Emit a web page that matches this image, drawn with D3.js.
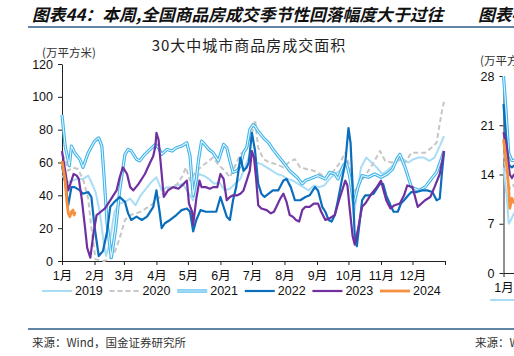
<!DOCTYPE html>
<html><head><meta charset="utf-8">
<script src="https://cdn.jsdelivr.net/npm/d3@7"></script>
<style>html,body{margin:0;padding:0;background:#fff;overflow:hidden}svg{display:block}</style>
</head><body>
<svg id="c" width="514" height="356"></svg>
<script>
// ---------------- data ----------------
const monthLabels = ["1月","2月","3月","4月","5月","6月","7月","8月","9月","10月","11月","12月",""];
const monthStarts = [0,31,59,90,120,151,181,212,243,273,304,334,365];
const yTicks = [0,20,40,60,80,100,120];
const seriesNames = ["2019","2020","2021","2022","2023","2024"];

// [day of year, 万平方米]
const s2019 = [[0,52],[5,48],[10,49],[15,50],[20,50],[25,52],[28,48],[32,42],[36,30],[40,10],[42,3],[45,10],[50,30],[55,35],[60,36],[65,38],[70,34],[75,40],[80,44],[85,48],[90,51],[95,43],[100,45],[105,45],[110,46],[115,47],[120,42],[125,37],[130,53],[135,52],[140,50],[145,47],[150,48],[155,43],[160,44],[165,47],[170,50],[175,58],[180,67],[185,60],[190,59],[195,57],[200,55],[205,53],[210,52],[215,50],[220,49],[225,47],[230,45],[235,43],[240,46],[245,45],[250,46],[255,50],[260,53],[265,55],[270,61],[275,52],[278,27],[282,45],[285,57],[290,63],[295,60],[300,57],[305,53],[310,55],[315,58],[320,61],[325,62],[330,60],[335,62],[340,63],[345,63],[350,61],[355,63],[360,70],[364,76]];
const s2020 = [[0,65],[3,62],[6,55],[10,57],[15,56],[20,50],[25,38],[28,20],[32,1],[40,0],[45,1],[50,5],[55,14],[60,25],[65,28],[70,29],[75,30],[80,32],[85,34],[90,37],[95,40],[100,44],[105,45],[110,47],[115,52],[118,57],[122,49],[127,54],[132,57],[138,60],[144,63],[150,58],[155,55],[160,51],[165,58],[170,65],[176,68],[182,80],[184,86],[187,69],[192,62],[198,60],[204,59],[211,57],[216,60],[222,62],[227,57],[233,56],[240,55],[246,53],[252,51],[258,54],[265,60],[270,66],[273,60],[278,42],[283,47],[290,53],[297,60],[303,67],[308,61],[314,60],[320,62],[327,60],[333,66],[340,66],[346,66],[352,69],[357,72],[359,80],[362,91],[364,97]];
const s2021 = [[0,89],[3,70],[7,58],[9,70],[12,66],[17,62],[20,57],[25,66],[31,73],[35,75],[38,70],[40,52],[43,23],[47,2],[51,19],[55,43],[60,65],[63,68],[66,67],[71,62],[74,61],[79,65],[84,68],[89,71],[92,69],[95,65],[100,68],[105,67],[109,69],[114,70],[119,72],[122,64],[125,40],[128,50],[130,61],[133,73],[136,71],[140,68],[144,66],[149,61],[154,71],[157,69],[160,61],[163,54],[167,55],[170,58],[173,66],[176,69],[179,80],[182,83],[184,82],[187,79],[192,75],[197,72],[201,68],[206,64],[211,60],[217,55],[224,51],[229,47],[232,49],[236,50],[240,51],[244,52],[251,50],[255,54],[260,53],[263,50],[268,58],[271,60],[274,52],[278,35],[282,45],[286,52],[292,51],[298,53],[304,51],[310,53],[315,56],[319,62],[322,65],[327,57],[333,45],[340,43],[346,45],[352,50],[357,54],[362,63],[364,67]];
const s2022 = [[0,58],[3,48],[6,34],[9,45],[12,45],[17,43],[20,41],[25,42],[28,39],[31,21],[35,3],[39,6],[43,18],[46,33],[50,36],[55,39],[60,36],[63,29],[66,25],[71,27],[76,25],[81,27],[87,33],[90,43],[93,30],[95,20],[98,23],[103,25],[109,28],[114,31],[119,32],[122,30],[125,18],[128,25],[132,31],[137,30],[141,30],[147,30],[151,39],[154,33],[157,27],[160,25],[163,37],[166,45],[170,63],[173,55],[176,57],[178,60],[181,78],[184,67],[187,47],[190,41],[193,39],[197,41],[201,43],[206,43],[211,49],[214,50],[218,45],[222,37],[227,37],[232,39],[236,40],[241,45],[244,43],[248,33],[251,30],[254,25],[257,24],[260,28],[263,37],[266,47],[270,60],[273,81],[275,72],[277,45],[279,15],[281,9],[283,20],[286,37],[289,40],[293,40],[297,41],[300,44],[303,47],[306,47],[309,40],[313,34],[316,30],[320,30],[323,35],[326,37],[330,40],[333,42],[338,42],[343,43],[348,43],[353,42],[357,37],[360,38],[362,53],[364,66]];
const s2023 = [[0,67],[3,55],[6,43],[8,47],[11,53],[14,52],[16,50],[19,37],[22,20],[24,8],[27,2],[30,17],[33,28],[37,30],[41,32],[47,38],[52,43],[55,51],[58,57],[62,53],[65,45],[68,43],[73,47],[79,53],[84,60],[87,64],[89,70],[90,78],[92,74],[94,60],[97,39],[101,43],[106,45],[111,44],[116,47],[119,49],[121,35],[124,30],[125,22],[128,38],[131,49],[133,45],[137,45],[141,44],[144,45],[148,45],[151,53],[154,50],[157,37],[160,39],[163,40],[167,40],[170,41],[173,43],[176,49],[179,55],[181,67],[183,63],[185,50],[187,34],[190,32],[195,31],[199,29],[202,30],[205,34],[208,38],[211,41],[214,36],[217,28],[220,27],[223,25],[226,24],[229,31],[232,33],[236,33],[240,35],[244,35],[247,30],[251,25],[255,26],[260,28],[264,37],[268,45],[270,49],[272,46],[274,33],[277,15],[279,10],[282,19],[286,33],[289,35],[295,41],[300,45],[304,49],[306,44],[309,37],[313,32],[317,34],[322,35],[326,40],[329,46],[334,45],[339,33],[346,37],[351,39],[355,45],[360,53],[363,63],[364,67]];
const s2024 = [[0,61],[1.5,55],[3,49],[4.5,37],[6,29],[7.5,27],[9,30],[10.5,31],[11.5,28],[12.5,30]];

// partially visible neighbouring chart (right edge)
const rightTicks = [0,7,14,21,28];
const r2019 = [[0,15],[3,11],[5,7],[7,7.5],[10,8.5],[12,8]];
const r2020 = [[0,17],[3,14],[6,12],[9,12.5],[12,12]];
const r2021 = [[0,28],[2,24],[5,17],[8,16],[12,16]];
const r2022 = [[0,24],[2,20],[5,15.4],[8,15],[12,15.5]];
const r2023 = [[0,20],[3,18],[6,14],[8,13.5],[10,14],[12,14]];
const r2024 = [[0,19],[3,15.4],[5,12],[6,9.2],[8,10.6],[10,10],[12,10.5]];

// ---------------- drawing ----------------
const svg = d3.select("#c");
const CJK = "'Noto Sans CJK SC','Noto Sans',sans-serif";
const LAT = "'Liberation Sans',Arial,'Noto Sans CJK SC',sans-serif";
const ruleColor = "#2d5b86";

const styles = {
  "2019": {color:"#a9dcf5", w:2},
  "2020": {color:"#c6c6c6", w:2, dash:"5,3"},
  "2021": {color:"#3fb3e8", w:3.2, inner:"#e3f5fd", innerW:1.1},
  "2022": {color:"#0a6ebd", w:2.2},
  "2023": {color:"#7030a0", w:2.2},
  "2024": {color:"#f5903e", w:2.8}
};

// header + rules
svg.append("text").attr("x",32).attr("y",14).attr("dominant-baseline","central")
  .attr("font-family",CJK).attr("font-size",16.8).attr("font-weight","bold").attr("font-style","italic")
  .attr("fill","#111").text("图表44：本周,全国商品房成交季节性回落幅度大于过往");
svg.append("text").attr("x",478).attr("y",14).attr("dominant-baseline","central")
  .attr("font-family",CJK).attr("font-size",16.8).attr("font-weight","bold").attr("font-style","italic")
  .attr("fill","#111").text("图表45：");
svg.append("line").attr("x1",28).attr("x2",514).attr("y1",27).attr("y2",27).attr("stroke",ruleColor).attr("stroke-width",1.6);
svg.append("line").attr("x1",28).attr("x2",514).attr("y1",329).attr("y2",329).attr("stroke",ruleColor).attr("stroke-width",1.6);
svg.append("text").attr("x",32).attr("y",342).attr("dominant-baseline","central")
  .attr("font-family",CJK).attr("font-size",11.5).attr("fill","#333").text("来源：Wind，国金证券研究所");
svg.append("text").attr("x",475).attr("y",342).attr("dominant-baseline","central")
  .attr("font-family",CJK).attr("font-size",11.5).attr("fill","#333").text("来源：Wind，国金证券研究所");

// title & unit
svg.append("text").attr("x",249).attr("y",44).attr("text-anchor","middle").attr("dominant-baseline","central")
  .attr("font-family",CJK).attr("font-size",15).attr("letter-spacing",1).attr("fill","#222").text("30大中城市商品房成交面积");
svg.append("text").attr("x",42).attr("y",52).attr("dominant-baseline","central")
  .attr("font-family",CJK).attr("font-size",11.5).attr("fill","#333").text("(万平方米)");

// scales
const x = d3.scaleLinear().domain([0,365]).range([62,445]);
const y = d3.scaleLinear().domain([0,120]).range([261,64]);

function styleAxis(g){
  g.selectAll("path,line").attr("stroke","#222").attr("stroke-width",1);
  g.selectAll("text").attr("font-family",LAT).attr("font-size",12.5).attr("fill","#111");
}
svg.append("g").attr("transform","translate(62,0)")
  .call(d3.axisLeft(y).tickValues(yTicks).tickSize(4).tickSizeOuter(0).tickPadding(5))
  .call(styleAxis);
svg.append("g").attr("transform","translate(0,261)")
  .call(d3.axisBottom(x).tickValues(monthStarts).tickFormat((d,i)=>monthLabels[i]).tickSize(4).tickSizeOuter(0).tickPadding(6))
  .call(styleAxis);

const line = d3.line().x(d=>x(d[0])).y(d=>y(d[1]));
const data = {"2019":s2019,"2020":s2020,"2021":s2021,"2022":s2022,"2023":s2023,"2024":s2024};

function drawSeries(g, gen, arr, st){
  const p = g.append("path").datum(arr).attr("d",gen).attr("fill","none")
    .attr("stroke",st.color).attr("stroke-width",st.w).attr("stroke-linejoin","round");
  if(st.dash) p.attr("stroke-dasharray",st.dash);
  if(st.inner){
    g.append("path").datum(arr).attr("d",gen).attr("fill","none")
      .attr("stroke",st.inner).attr("stroke-width",st.innerW).attr("stroke-linejoin","round");
  }
}
const plot = svg.append("g");
seriesNames.forEach(n=>drawSeries(plot,line,data[n],styles[n]));

// legend
const legend = svg.append("g");
seriesNames.forEach((n,i)=>{
  const lx = 42 + i*67.6, ly = 291;
  const st = styles[n];
  const l = legend.append("line").attr("x1",lx).attr("x2",lx+30).attr("y1",ly).attr("y2",ly)
    .attr("stroke",st.color).attr("stroke-width",st.w);
  if(st.dash) l.attr("stroke-dasharray",st.dash);
  if(st.inner) legend.append("line").attr("x1",lx).attr("x2",lx+30).attr("y1",ly).attr("y2",ly)
    .attr("stroke",st.inner).attr("stroke-width",st.innerW);
  legend.append("text").attr("x",lx+33).attr("y",ly).attr("dominant-baseline","central")
    .attr("font-family",LAT).attr("font-size",12.5).attr("fill","#111").text(n);
});

// right neighbour chart (cut off by the page edge)
const xr = d3.scaleLinear().domain([0,365]).range([503.5,886]);
const yr = d3.scaleLinear().domain([0,28]).range([273,76]);
svg.append("text").attr("x",480).attr("y",60).attr("dominant-baseline","central")
  .attr("font-family",CJK).attr("font-size",11.5).attr("fill","#333").text("(万平方米)");
svg.append("g").attr("transform","translate(503.5,0)")
  .call(d3.axisLeft(yr).tickValues(rightTicks).tickSize(4).tickSizeOuter(0).tickPadding(5))
  .call(styleAxis);
svg.append("g").attr("transform","translate(0,273)")
  .call(d3.axisBottom(xr).tickValues([0]).tickFormat(()=> "1月").tickSize(4).tickSizeOuter(0).tickPadding(6))
  .call(styleAxis);
const liner = d3.line().x(d=>xr(d[0])).y(d=>yr(d[1]));
const rdata = {"2019":r2019,"2020":r2020,"2021":r2021,"2022":r2022,"2023":r2023,"2024":r2024};
const rplot = svg.append("g");
seriesNames.forEach(n=>drawSeries(rplot,liner,rdata[n],styles[n]));
svg.append("line").attr("x1",490).attr("x2",520).attr("y1",300).attr("y2",300)
  .attr("stroke",styles["2019"].color).attr("stroke-width",2);
</script>
</body></html>
